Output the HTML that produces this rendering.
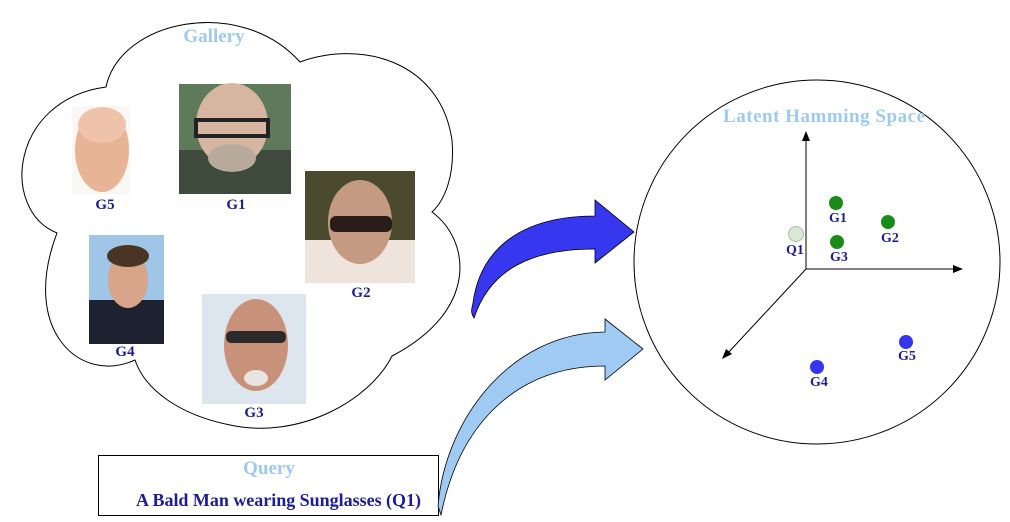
<!DOCTYPE html>
<html><head><meta charset="utf-8"><style>
html,body{margin:0;padding:0;background:#fff;width:1010px;height:522px;overflow:hidden}
svg{display:block}
text{font-family:"Liberation Serif",serif;font-weight:bold}
.lb{fill:#1c1c9c;font-size:15px}
.sm{fill:#1c1c9c;font-size:14px}
.tt{fill:#9ccaf2;font-size:19px}
</style></head><body>
<svg width="1010" height="522" viewBox="0 0 1010 522">
<path d="M106,87 C120,20 240,-5 300,62 C360,40 440,60 452,140 C455,175 445,200 432,212 C470,240 480,310 392,356 C370,400 300,440 230,425 C180,415 145,390 135,360 C80,385 20,330 57,233 C0,210 10,100 106,87 Z" fill="#fff" stroke="#000" stroke-width="1"/>
<text class="tt" x="214" y="42" text-anchor="middle">Gallery</text>
<rect x="72" y="106" width="58" height="88" fill="#fbf7f4"/>
<ellipse cx="102" cy="150" rx="27" ry="42" fill="#e8b496"/>
<ellipse cx="102" cy="125" rx="24" ry="18" fill="#efc3a9"/>
<rect x="179" y="84" width="112" height="110" fill="#5f7a5a"/>
<rect x="179" y="150" width="112" height="44" fill="#3e4a3c"/>
<ellipse cx="232" cy="125" rx="36" ry="42" fill="#d6b6a0"/>
<rect x="196" y="120" width="72" height="16" fill="none" stroke="#222" stroke-width="4"/>
<ellipse cx="232" cy="158" rx="24" ry="14" fill="#b8aa9a"/>
<rect x="305" y="171" width="110" height="112" fill="#4b4a2e"/>
<rect x="305" y="240" width="110" height="43" fill="#efe4dc"/>
<ellipse cx="360" cy="222" rx="32" ry="42" fill="#c49a82"/>
<rect x="330" y="216" width="62" height="16" rx="6" fill="#2a1c18"/>
<rect x="89" y="235" width="75" height="109" fill="#9fc6e6"/>
<rect x="89" y="300" width="75" height="44" fill="#1e2230"/>
<ellipse cx="128" cy="280" rx="20" ry="28" fill="#d8a48a"/>
<ellipse cx="128" cy="256" rx="21" ry="11" fill="#4a3424"/>
<rect x="202" y="294" width="104" height="110" fill="#dde6ee"/>
<ellipse cx="256" cy="345" rx="32" ry="46" fill="#c8927a"/>
<rect x="226" y="331" width="60" height="12" rx="5" fill="#2a2a2a"/>
<ellipse cx="256" cy="378" rx="12" ry="8" fill="#e8e4e0"/>
<text class="lb" x="105" y="209" text-anchor="middle">G5</text>
<text class="lb" x="236" y="209" text-anchor="middle">G1</text>
<text class="lb" x="361" y="297" text-anchor="middle">G2</text>
<text class="lb" x="125" y="356" text-anchor="middle">G4</text>
<text class="lb" x="254" y="417" text-anchor="middle">G3</text>
<rect x="98.5" y="455.5" width="340" height="60" fill="#fff" stroke="#000"/>
<text class="tt" x="269" y="474" text-anchor="middle">Query</text>
<text x="136" y="506" textLength="285" style="fill:#1c1c9c;font-size:18px">A Bald Man wearing Sunglasses (Q1)</text>
<path d="M473,303 C480,250 520,216 595,216 L595,200 L634,232 L595,263 L595,249 C530,249 490,270 474,318 C470,312 472,308 473,303 Z" fill="#3737f0" stroke="#000" stroke-width="0.8"/>
<path d="M438,506 C445,420 510,333 605,332 L605,319 L643,349 L605,380 L605,366 C520,366 460,420 441,515 Z" fill="#9ecaf4" stroke="#000" stroke-width="0.8"/>
<ellipse cx="817" cy="262" rx="183" ry="182" fill="#fff" stroke="#000"/>
<text class="tt" x="723" y="122" textLength="202">Latent Hamming Space</text>
<g stroke="#000" stroke-width="1" fill="none">
<line x1="806" y1="269" x2="806" y2="138"/>
<line x1="806" y1="269" x2="956" y2="269"/>
<line x1="806" y1="269" x2="727" y2="354"/>
</g>
<path d="M806,131 L802,141 L810,141 Z M963,269 L953,265 L953,273 Z M722,359 L726,349 L732,354 Z" fill="#000"/>
<circle cx="836" cy="203" r="7" fill="#1a8a1a"/>
<circle cx="888" cy="222" r="7" fill="#1a8a1a"/>
<circle cx="837" cy="242" r="7" fill="#1a8a1a"/>
<circle cx="796" cy="234" r="7.5" fill="#d8e8d4" stroke="#a8c0a4"/>
<circle cx="906" cy="342" r="7" fill="#3535ee"/>
<circle cx="817" cy="367" r="7" fill="#3535ee"/>
<text class="sm" x="838" y="222" text-anchor="middle">G1</text>
<text class="sm" x="890" y="242" text-anchor="middle">G2</text>
<text class="sm" x="839" y="261" text-anchor="middle">G3</text>
<text class="sm" x="795" y="254" text-anchor="middle">Q1</text>
<text class="sm" x="907" y="360" text-anchor="middle">G5</text>
<text class="sm" x="819" y="386" text-anchor="middle">G4</text>
</svg>
</body></html>
